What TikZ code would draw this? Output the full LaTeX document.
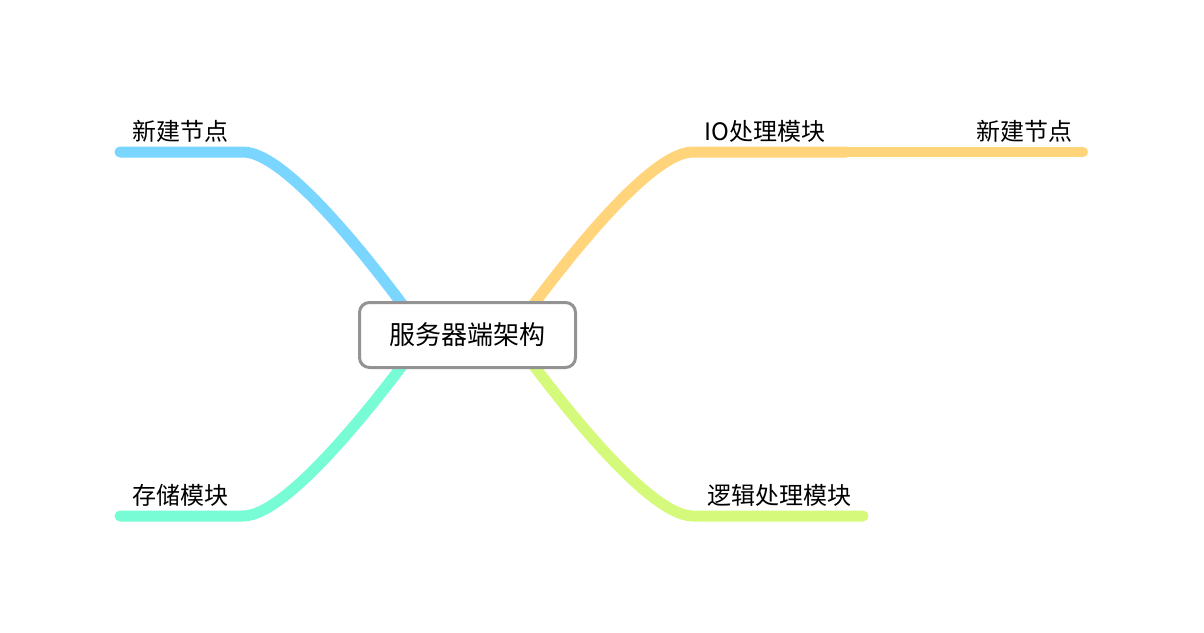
\documentclass[tikz,border=0pt]{standalone}
\usepackage{fontspec}
\setmainfont{Noto Sans CJK SC}
\begin{document}
\begin{tikzpicture}[x=1pt,y=-1pt,
  branch/.style={line width=11pt},
  subbranch/.style={line width=10pt, line cap=round},
  lbl/.style={anchor=base west, inner sep=0pt, font=\fontsize{24}{28}\selectfont},
  centre/.style={draw=boxgray, line width=3pt, rounded corners=10pt, fill=white,
    minimum width=216pt, minimum height=65pt, inner sep=0pt, font=\fontsize{26}{31}\selectfont}
]
\definecolor{cblue}{HTML}{7AD5FF}
\definecolor{corange}{HTML}{FFD47A}
\definecolor{ccyan}{HTML}{78FCD6}
\definecolor{clime}{HTML}{D5FA7B}
\definecolor{boxgray}{HTML}{939393}
\useasboundingbox (0,0) rectangle (1204,632);
% anchor points of the branches (hidden under the centre box)
\coordinate (cl) at (425,335);
\coordinate (cr) at (511,335);
% branch end points
\coordinate (tlA) at (243,152);
\coordinate (tlB) at (120,152);
\coordinate (blA) at (243,516);
\coordinate (blB) at (120,516);
\coordinate (trA) at (693,152);
\coordinate (trB) at (847,152);
\coordinate (trC) at (1083,152);
\coordinate (brA) at (693,516);
\coordinate (brB) at (863,516);
% branches
\draw[branch, cblue, line cap=round] (cl) .. controls (400,301) and (293,152) .. (tlA) -- (tlB);
\draw[branch, ccyan, line cap=round] (cl) .. controls (400,369) and (293,516) .. (blA) -- (blB);
\draw[branch, corange] (cr) .. controls (536,301) and (643,152) .. (trA) -- (trB);
\draw[subbranch, corange] (trB) -- (trC);
\draw[branch, clime, line cap=round] (cr) .. controls (536,369) and (643,516) .. (brA) -- (brB);
% centre node
\node[centre] (c) at (467.5,335) {服务器端架构};
% labels
\node[lbl] (n1) at (132,140) {新建节点};
\node[lbl] (n2) at (132,504) {存储模块};
\node[lbl] (n3) at (704,140) {IO处理模块};
\node[lbl] (n4) at (976,140) {新建节点};
\node[lbl] (n5) at (707,504) {逻辑处理模块};
\end{tikzpicture}
\end{document}
